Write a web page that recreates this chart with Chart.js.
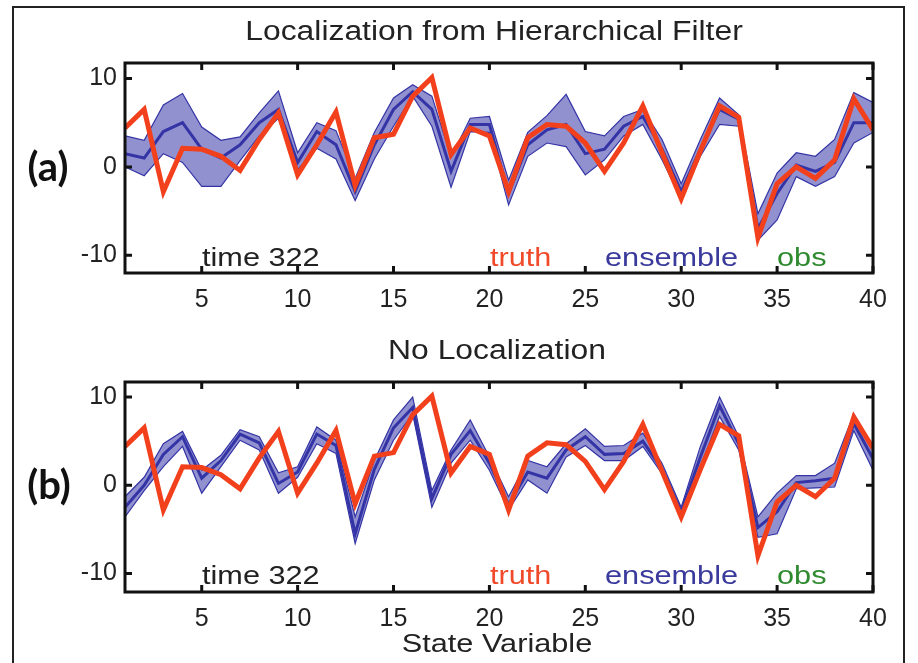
<!DOCTYPE html>
<html>
<head>
<meta charset="utf-8">
<script src="https://cdn.jsdelivr.net/npm/chart.js@4.4.0/dist/chart.umd.min.js"></script>
<style>
  body { margin:0; background:#fff; width:918px; height:663px; overflow:hidden; position:relative; font-family:"Liberation Sans", Arial, sans-serif; }
  #frame { position:absolute; left:12px; top:6px; width:889px; height:700px; border:2px solid #222; }
  canvas { position:absolute; left:0; }
  .t { position:absolute; white-space:nowrap; color:#222; line-height:1; }
  .c { transform:translate(-50%,-50%) scaleX(1.18); }
  .l { transform:translate(0,-50%) scaleX(1.18); transform-origin:left center; }
  .p { transform:translate(-50%,-50%); font-family:Lato; font-weight:bold; font-size:40px; color:#111; }
</style>
</head>
<body>
<div id="frame"></div>
<canvas id="panelA" width="918" height="330" style="top:0"></canvas>
<canvas id="panelB" width="918" height="333" style="top:330px"></canvas>

<div class="t c" style="left:494px;top:31px;font-size:27px">Localization from Hierarchical Filter</div>
<div class="t c" style="left:497px;top:350px;font-size:27px">No Localization</div>
<div class="t c" style="left:497px;top:643px;font-size:26px">State Variable</div>
<div class="t p" style="left:48px;top:166px">(a)</div>
<div class="t p" style="left:49px;top:484px">(b)</div>

<div class="t l" style="left:202px;top:257px;font-size:26px">time 322</div>
<div class="t l" style="left:490px;top:257px;font-size:26px;color:#f04a2a">truth</div>
<div class="t l" style="left:605px;top:257px;font-size:26px;color:#3a3a9c">ensemble</div>
<div class="t l" style="left:777px;top:257px;font-size:26px;color:#2f8a2f">obs</div>

<div class="t l" style="left:202px;top:575px;font-size:26px">time 322</div>
<div class="t l" style="left:490px;top:575px;font-size:26px;color:#f04a2a">truth</div>
<div class="t l" style="left:605px;top:575px;font-size:26px;color:#3a3a9c">ensemble</div>
<div class="t l" style="left:777px;top:575px;font-size:26px;color:#2f8a2f">obs</div>

<script>
// state variable index
const stateVars = [1,2,3,4,5,6,7,8,9,10,11,12,13,14,15,16,17,18,19,20,
                   21,22,23,24,25,26,27,28,29,30,31,32,33,34,35,36,37,38,39,40];
const xTicks = [5,10,15,20,25,30,35,40];
const yTicks = [-10,0,10];

// truth at time 322 (same in both panels)
const truth = [4.4,6.5,-2.8,2.1,2.0,1.2,-0.4,3.1,6.1,-0.9,2.5,6.2,-2.1,3.3,3.7,8.0,10.1,1.4,4.4,3.5,
               -2.8,3.3,4.8,4.6,2.7,-0.5,2.7,6.9,1.6,-3.6,1.8,6.9,5.6,-8.0,-1.9,0.0,-1.3,0.8,7.7,4.2];

// (a) hierarchical filter localization: ensemble mean and spread
const ensA_mean = [1.5,1.0,4.0,5.0,2.0,1.0,2.5,5.0,6.5,0.5,4.0,2.5,-2.8,2.5,6.5,8.5,6.5,-0.5,4.8,4.8,
                   -3.0,2.5,4.2,4.8,1.5,2.0,4.6,5.7,2.0,-2.8,2.0,6.5,5.4,-7.0,-3.0,0.2,-0.5,0.5,5.0,5.0];
const ensA_low  = [0.0,-1.0,1.5,0.5,-2.2,-2.2,0.7,3.5,5.5,-0.3,2.1,0.9,-3.8,0.9,4.6,8.0,4.6,-2.3,4.0,3.9,
                   -4.3,1.2,2.7,2.3,-0.9,0.8,3.5,4.8,0.8,-3.6,1.2,4.8,4.6,-8.3,-6.0,-1.1,-2.2,-1.1,2.7,3.9];
const ensA_high = [3.5,3.0,7.0,8.3,4.5,3.0,3.4,6.1,8.6,1.6,5.0,4.1,-1.3,3.9,7.8,9.3,8.0,1.1,5.5,5.7,
                   -1.5,3.9,5.8,8.2,4.0,3.5,5.7,6.5,3.1,-1.9,3.1,7.8,5.9,-5.3,-0.7,1.6,1.2,3.1,8.4,7.3];

// (b) no localization: ensemble mean and spread
const ensB_mean = [-2.5,0.0,3.5,5.5,0.8,2.8,5.8,4.8,0.2,1.5,5.8,4.5,-5.5,1.8,6.5,8.8,-1.5,3.5,6.2,2.5,
                   -2.2,1.5,0.8,4.0,5.5,3.5,3.6,5.0,1.8,-3.0,3.2,9.0,4.7,-4.8,-3.0,0.3,0.5,0.8,7.0,3.0];
const ensB_low  = [-3.6,-0.6,2.1,4.4,-0.9,2.1,5.1,4.0,-0.9,0.9,4.7,3.6,-6.6,0.6,5.1,8.1,-2.5,2.5,5.1,1.7,
                   -2.8,0.6,-0.9,3.2,4.5,2.8,2.8,4.4,1.3,-3.6,2.1,7.8,4.0,-5.9,-5.5,-0.4,-0.3,-0.2,6.2,1.7];
const ensB_high = [-1.3,0.9,4.7,6.1,1.7,3.4,6.3,5.5,1.4,2.1,6.6,5.1,-3.6,2.8,7.4,10.0,-0.6,4.0,7.4,3.2,
                   -1.3,2.8,2.1,4.7,6.4,4.4,4.5,5.9,2.5,-2.5,4.4,10.0,5.5,-3.6,-0.9,1.1,1.1,2.5,8.1,4.4];

const truthColor = '#f2401c';
const ensColor = '#3434a6';

function pts(arr) {
  return stateVars.map((x, i) => ({ x: x, y: arr[i] }));
}

// axis frame with inward ticks like the original figure
const boxPlugin = {
  id: 'box',
  afterDatasetsDraw(chart) {
    const ctx = chart.ctx, a = chart.chartArea;
    const xs = chart.scales.x, ys = chart.scales.y;
    ctx.save();
    ctx.strokeStyle = '#111';
    ctx.lineWidth = 3;
    ctx.strokeRect(a.left, a.top, a.right - a.left, a.bottom - a.top);
    ctx.beginPath();
    xTicks.forEach(v => {
      const px = xs.getPixelForValue(v);
      ctx.moveTo(px, a.bottom); ctx.lineTo(px, a.bottom - 7);
      ctx.moveTo(px, a.top); ctx.lineTo(px, a.top + 7);
    });
    yTicks.forEach(v => {
      const py = ys.getPixelForValue(v);
      ctx.moveTo(a.left, py); ctx.lineTo(a.left + 7, py);
      ctx.moveTo(a.right, py); ctx.lineTo(a.right - 7, py);
    });
    ctx.stroke();
    ctx.restore();
  }
};

function makePanel(id, low, high, mean, yMin, yMax, padTop, padBottom) {
  new Chart(document.getElementById(id), {
    type: 'line',
    data: {
      datasets: [
        { data: pts(low), borderColor: ensColor, borderWidth: 1.2, pointRadius: 0, fill: false, order: 3 },
        { data: pts(high), borderColor: ensColor, borderWidth: 1.2, pointRadius: 0,
          fill: 0, backgroundColor: 'rgba(55,55,170,0.55)', order: 2 },
        { data: pts(mean), borderColor: ensColor, borderWidth: 3, pointRadius: 0, fill: false, order: 1 },
        { data: pts(truth), borderColor: truthColor, borderWidth: 5, pointRadius: 0, fill: false, order: 0 }
      ]
    },
    options: {
      responsive: false,
      animation: false,
      events: [],
      layout: { padding: { left: 65, right: 45, top: padTop, bottom: padBottom } },
      plugins: { legend: { display: false }, tooltip: { enabled: false }, title: { display: false } },
      scales: {
        x: {
          type: 'linear', min: 1, max: 40,
          afterBuildTicks: s => { s.ticks = xTicks.map(v => ({ value: v })); },
          afterFit: s => { s.height = 45; },
          grid: { display: false, drawTicks: false },
          border: { display: false },
          ticks: { padding: 12, color: '#222', font: { family: 'Liberation Sans', size: 25 } }
        },
        y: {
          min: yMin, max: yMax,
          afterBuildTicks: s => { s.ticks = yTicks.map(v => ({ value: v })); },
          afterFit: s => { s.width = 60; },
          grid: { display: false, drawTicks: false },
          border: { display: false },
          ticks: { padding: 8, color: '#222', font: { family: 'Liberation Sans', size: 25 } }
        }
      }
    },
    plugins: [boxPlugin]
  });
}

makePanel('panelA', ensA_low, ensA_high, ensA_mean, -12, 11.75, 63, 12);
makePanel('panelB', ensB_low, ensB_high, ensB_mean, -12.1, 11.7, 52, 26);
</script>
</body>
</html>
